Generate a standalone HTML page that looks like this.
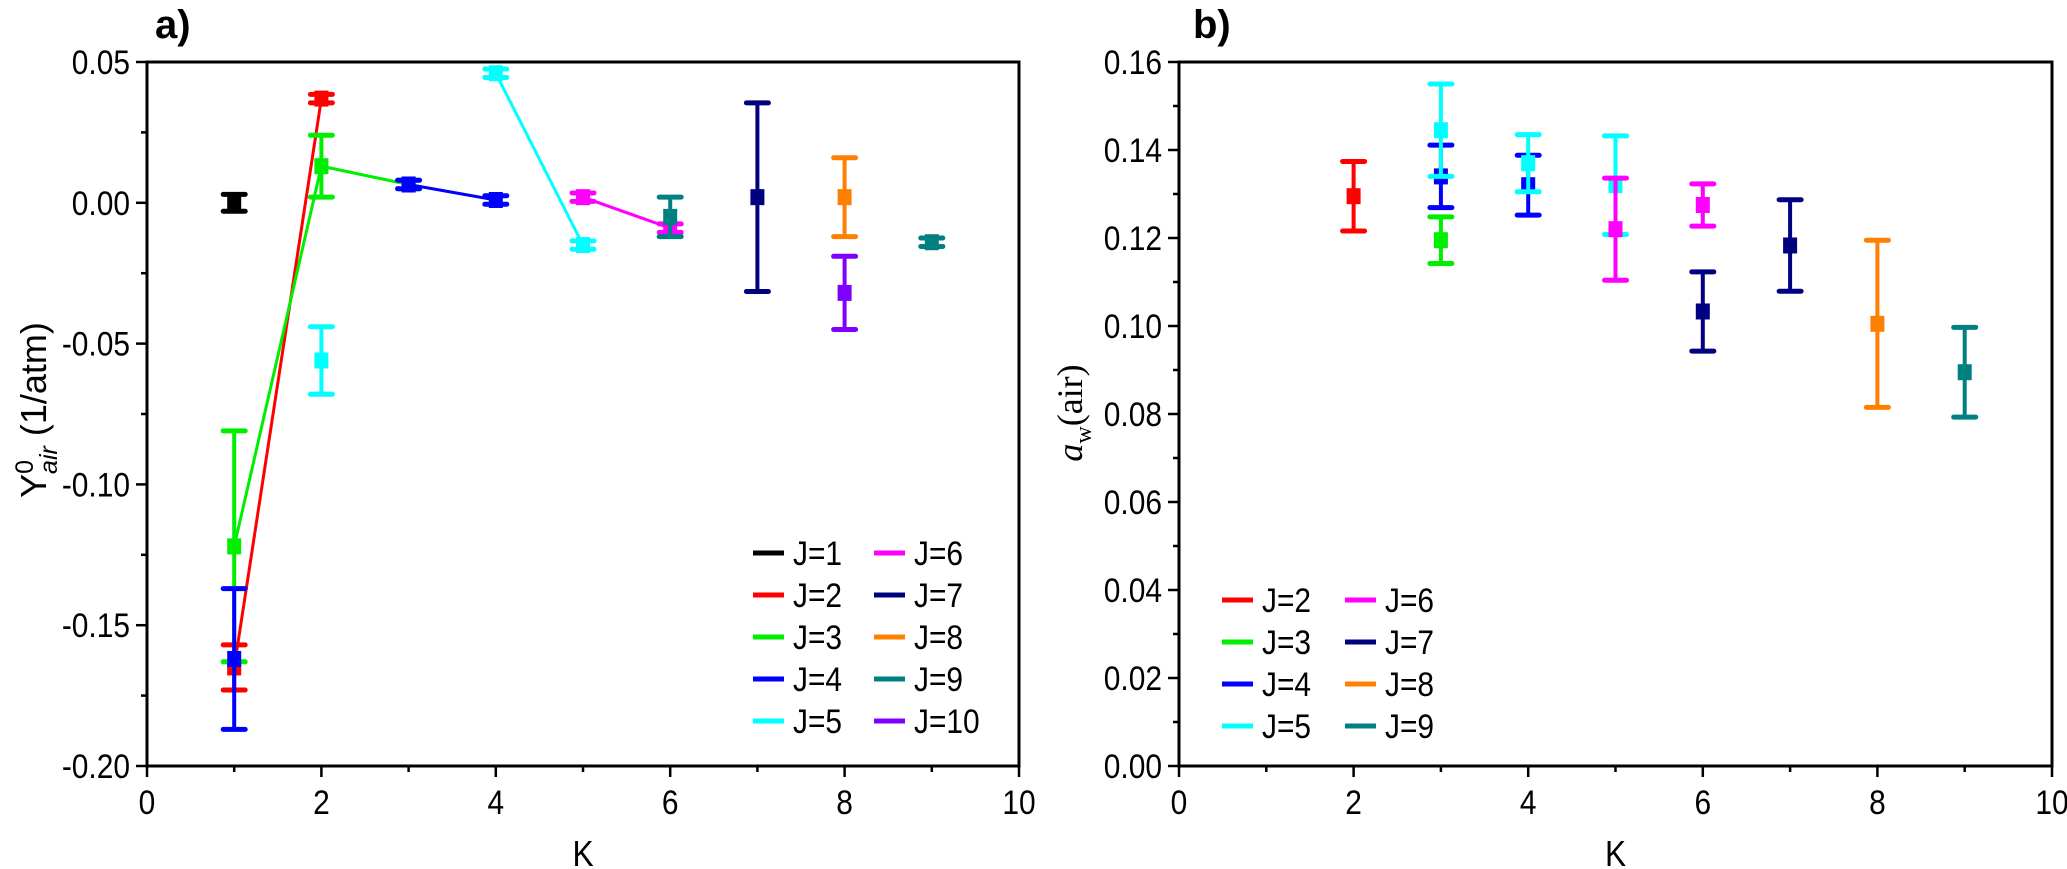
<!DOCTYPE html>
<html><head><meta charset="utf-8"><style>
html,body{margin:0;padding:0;background:#fff;}
svg{display:block;font-family:"Liberation Sans",sans-serif;}
</style></head><body>
<svg id="chart" width="2067" height="869" viewBox="0 0 2067 869"></svg>
<script>
// ---- Panel a data ----
const aSeriesNames = ["J=1","J=2","J=3","J=4","J=5","J=6","J=7","J=8","J=9","J=10"];
const aColors = ["#000000","#ff0000","#00ee00","#0000ff","#00ffff","#ff00ff","#000080","#ff8000","#008080","#8000ff"];
const aK = [[1],[1,2],[1,2,3],[1,3,4],[2,4,5],[5,6],[7],[8],[6,9],[8]];
const aY = [[0.000],[-0.165,0.037],[-0.122,0.013,0.0065],[-0.162,0.0065,0.001],[-0.056,0.046,-0.015],[0.002,-0.009],[0.002],[0.002],[-0.005,-0.014],[-0.032]];
const aErr = [[0.003],[0.008,0.0015],[0.041,0.011,0.0015],[0.025,0.0015,0.0015],[0.012,0.0015,0.0015],[0.0015,0.0015],[0.0335],[0.014],[0.007,0.0015],[0.013]];
const aLinePts = [null,[0,1],[0,1,2],[1,2],[1,2],[0,1],null,null,null,null];
const aYTicks = [0.05,0.00,-0.05,-0.10,-0.15,-0.20];
const aYTickLabels = ["0.05","0.00","-0.05","-0.10","-0.15","-0.20"];
const xTicks = [0,2,4,6,8,10];
// ---- Panel b data ----
const bSeriesNames = ["J=2","J=3","J=4","J=5","J=6","J=7","J=8","J=9"];
const bColors = ["#ff0000","#00ee00","#0000ff","#00ffff","#ff00ff","#000080","#ff8000","#008080"];
const bK = [[2],[3],[3,4],[3,4,5],[5,6],[6,7],[8],[9]];
const bY = [[0.1295],[0.1195],[0.134,0.132],[0.1445,0.137,0.132],[0.122,0.1275],[0.1033,0.1183],[0.1005],[0.0895]];
const bErr = [[0.0079],[0.0053],[0.0071,0.0068],[0.0105,0.0065,0.0112],[0.0116,0.0048],[0.009,0.0104],[0.019],[0.0102]];
const bYTicks = [0.00,0.02,0.04,0.06,0.08,0.10,0.12,0.14,0.16];
const bYTickLabels = ["0.00","0.02","0.04","0.06","0.08","0.10","0.12","0.14","0.16"];

const NS="http://www.w3.org/2000/svg";
const svg=document.getElementById('chart');
function mk(tag,attrs,parent){const e=document.createElementNS(NS,tag);for(const k in attrs)e.setAttribute(k,attrs[k]);(parent||svg).appendChild(e);return e;}
function txt(x,y,s,size,anchor,parent){
  const t=mk('text',{transform:`translate(${x},${y}) scale(0.88,1)`,'text-anchor':anchor,'font-size':size},parent);
  t.textContent=s;return t;
}

function panel(P){
  const g=mk('g',{});
  
  
  const X=k=>P.x0+(k-P.kmin)/(P.kmax-P.kmin)*(P.x1-P.x0);
  const Y=v=>P.y1-(v-P.vmin)/(P.vmax-P.vmin)*(P.y1-P.y0);
  const fr=mk('rect',{x:P.x0,y:P.y0,width:P.x1-P.x0,height:P.y1-P.y0,fill:'none',stroke:'#000','stroke-width':3},g);
  
  
  for(let k=P.kmin;k<=P.kmax;k++){
    const major=k%2===0;
    mk('line',{x1:X(k),x2:X(k),y1:P.y1,y2:P.y1+(major?11:6),stroke:'#000','stroke-width':2.5},g);
  }
  xTicks.forEach(k=>{
    const t=txt(X(k),P.y1+48,String(k),34,'middle',g);
    
    
  });
  P.yTicks.forEach((v,i)=>{
    mk('line',{x1:P.x0-11,x2:P.x0,y1:Y(v),y2:Y(v),stroke:'#000','stroke-width':2.5},g);
    if(i<P.yTicks.length-1){const m=(v+P.yTicks[i+1])/2;mk('line',{x1:P.x0-6,x2:P.x0,y1:Y(m),y2:Y(m),stroke:'#000','stroke-width':2.5},g);}
    const t=txt(P.x0-17,Y(v)+12,P.yLabels[i],34,'end',g);
    
    
  });
  const xt=txt((P.x0+P.x1)/2,866,'K',36,'middle',g);
  
  
  const pl=mk('text',{x:P.labelX,y:38,'font-size':40,'font-weight':'bold'},g);
  pl.textContent=P.label;
  
  
  P.ks.forEach((ks,s)=>{
    const sg=mk('g',{},g);
    
    
    const c=P.colors[s];
    if(P.lines && P.lines[s]){
      const pts=P.lines[s].map(i=>X(ks[i])+','+Y(P.ys[s][i])).join(' ');
      const pl2=mk('polyline',{points:pts,fill:'none',stroke:c,'stroke-width':3},sg);
      
      
    }
    ks.forEach((k,i)=>{
      const x=X(k),v=P.ys[s][i],e=P.errs[s][i];
      const yt=Y(v+e),yb=Y(v-e);
      mk('line',{x1:x,x2:x,y1:yt,y2:yb,stroke:c,'stroke-width':4},sg);
      mk('line',{x1:x-11,x2:x+11,y1:yt,y2:yt,stroke:c,'stroke-width':5,'stroke-linecap':'round'},sg);
      mk('line',{x1:x-11,x2:x+11,y1:yb,y2:yb,stroke:c,'stroke-width':5,'stroke-linecap':'round'},sg);
      const r=mk('rect',{x:x-7,y:Y(v)-8,width:14,height:16,fill:c},sg);
      
      
    });
  });
  const lg=mk('g',{},g);
  
  
  P.names.forEach((n,i)=>{
    const col=Math.floor(i/P.legRows),row=i%P.legRows;
    const lx=P.legX+col*P.legColW,ly=P.legY+row*42;
    const eg=mk('g',{},lg);
    
    
    mk('line',{x1:lx,x2:lx+31,y1:ly,y2:ly,stroke:P.colors[i],'stroke-width':5},eg);
    txt(lx+40,ly+12,n,34,'start',eg);
  });
}

panel({name:'panel-a',label:'a)',labelX:155,x0:147,x1:1019,y0:62,y1:766,kmin:0,kmax:10,vmin:-0.20,vmax:0.05,
  yTicks:aYTicks,yLabels:aYTickLabels,ks:aK,ys:aY,errs:aErr,names:aSeriesNames,colors:aColors,lines:aLinePts,
  legX:753,legY:553,legRows:5,legColW:121});
panel({name:'panel-b',label:'b)',labelX:1193,x0:1179,x1:2052,y0:62,y1:766,kmin:0,kmax:10,vmin:0,vmax:0.16,
  yTicks:bYTicks,yLabels:bYTickLabels,ks:bK,ys:bY,errs:bErr,names:bSeriesNames,colors:bColors,lines:null,
  legX:1222,legY:600,legRows:4,legColW:123});

const ya=mk('text',{transform:'translate(46,410) rotate(-90)','text-anchor':'middle','font-size':36});


ya.innerHTML='Y<tspan dy="-13" font-size="25">0</tspan><tspan dx="-14" dy="24" font-size="25" font-style="italic">air</tspan><tspan dy="-11"> (1/atm)</tspan>';
const yb=mk('text',{transform:'translate(1082,413) rotate(-90)','text-anchor':'middle','font-size':36,'font-family':'"Liberation Serif",serif'});


yb.innerHTML='<tspan font-style="italic">a</tspan><tspan dy="9" font-size="24">w</tspan><tspan dy="-9">(air)</tspan>';
</script>
</body></html>
